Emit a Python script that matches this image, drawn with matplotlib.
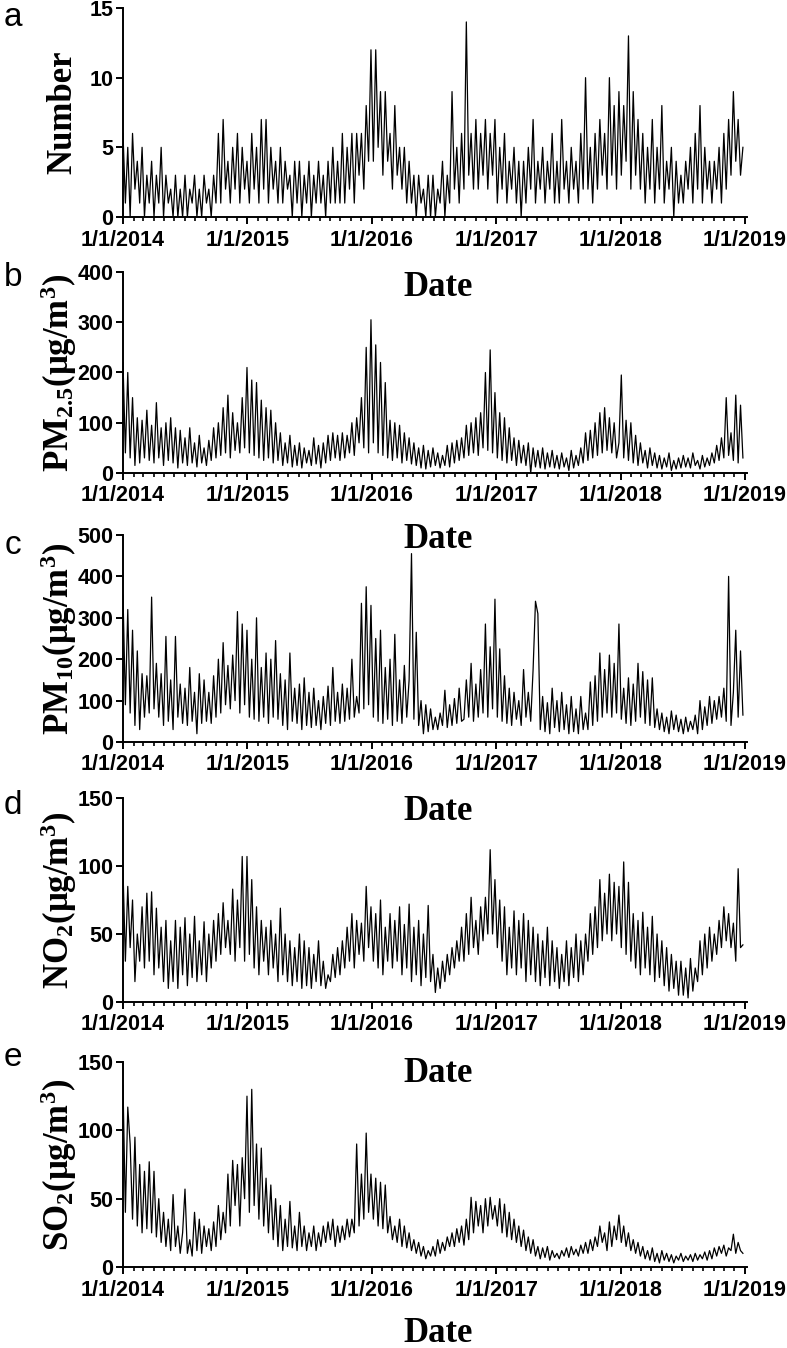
import numpy as np
import matplotlib
matplotlib.use('Agg')
import matplotlib.pyplot as plt
import matplotlib.dates as mdates
from matplotlib.ticker import FuncFormatter

plt.rcParams['font.family'] = ['Liberation Sans', 'DejaVu Sans']
plt.rcParams['mathtext.fontset'] = 'custom'
plt.rcParams['mathtext.rm'] = 'Liberation Serif:bold'
plt.rcParams['mathtext.it'] = 'Liberation Serif:bold:italic'
plt.rcParams['mathtext.bf'] = 'Liberation Serif:bold'

## weekly readings (local highs / lows) from 1/1/2014, one row = one quarter
number = [6,1,5,0,6,2,4,1,5,0,3,1,4, 0,3,1,5,0,3,1,2,0,3,0,2,0,
          3,0,2,1,3,0,2,0,3,1,2,0,3, 1,6,1,7,2,4,1,5,2,6,1,5,2,
          4,1,6,2,5,1,7,2,7,1,5,2,4, 1,5,1,4,2,3,0,4,1,4,0,3,1,
          4,0,3,1,4,1,3,0,4,1,5,1,4, 1,6,1,5,2,6,1,6,3,6,2,8,4,
          12,4,12,5,9,3,9,4,6,2,8,3,5, 2,5,1,4,1,3,0,3,1,2,0,3,0,
          3,0,2,1,4,0,3,1,9,2,5,1,6, 2,14,3,6,2,7,2,6,3,7,2,6,3,
          7,1,5,2,6,1,4,2,5,1,4,0,4, 1,5,2,7,1,4,2,5,1,4,2,6,1,
          4,1,7,2,4,1,5,2,4,1,6,2,10, 2,5,1,6,2,7,3,6,2,10,3,8,2,
          9,3,8,4,13,2,9,3,7,2,6,1,5, 2,7,1,5,2,8,1,4,2,5,0,4,1,
          3,1,4,2,5,1,6,2,8,1,5,2,4, 1,4,2,5,1,6,2,7,3,9,4,7,3,
          5]

pm25 = [220,40,200,30,150,15,110,20,105,30,125,25,95, 20,140,30,90,15,100,25,110,20,90,10,85,20,
        70,15,90,20,60,12,75,20,50,15,65,25,90, 30,100,35,130,40,155,30,120,45,100,40,150,50,
        210,40,185,35,180,30,145,25,130,30,125,20,100, 25,80,15,60,20,75,12,55,15,60,10,50,20,
        45,15,70,18,55,10,60,20,75,25,80,30,75, 25,80,30,75,40,100,35,110,60,150,50,250,40,
        305,60,255,40,220,35,180,30,105,25,100,30,95, 20,80,25,70,18,60,15,50,10,55,8,45,12,
        50,15,40,10,35,15,55,12,60,20,65,25,70, 30,95,35,100,40,110,35,120,50,200,45,245,40,
        160,30,120,25,110,20,90,25,70,15,65,20,55, 15,60,0,50,12,45,10,50,8,40,12,45,10,
        35,8,40,12,30,5,45,10,35,15,50,20,80, 25,85,30,100,35,120,40,130,45,110,40,100,30,
        60,195,30,105,25,100,20,75,15,60,20,45,10, 50,15,40,10,35,8,30,12,40,5,25,8,30,
        10,35,12,30,10,40,15,25,8,35,12,30,15, 40,20,55,25,70,30,150,35,80,25,155,20,135,
        30]

pm10 = [355,90,320,70,270,40,220,30,165,60,160,70,350, 80,190,60,165,40,255,50,150,30,255,60,140,45,
        130,40,180,50,120,20,165,45,150,50,120,45,160, 60,200,70,240,90,185,80,210,100,315,70,285,90,
        270,60,200,55,300,50,180,60,215,45,200,60,245, 55,165,40,150,30,215,50,130,45,140,30,155,40,
        120,35,130,40,100,30,110,45,135,40,180,50,120, 45,140,50,130,55,200,60,110,70,335,80,375,90,
        330,60,250,50,270,45,180,55,200,40,260,50,150, 45,185,60,150,455,55,265,40,100,20,90,25,80,
        30,60,30,70,40,125,35,90,40,105,45,130,50, 55,150,60,190,50,140,60,175,70,285,60,230,80,
        345,60,225,50,160,45,130,40,120,55,100,40,175, 60,120,50,175,340,310,30,110,25,95,20,130,35,
        100,25,120,30,90,20,110,25,80,20,110,30,70, 30,145,40,160,50,215,60,175,70,210,60,190,70,
        285,55,130,45,155,40,140,50,190,60,170,45,150, 40,155,35,80,30,70,25,60,20,75,30,65,25,
        55,20,60,25,50,30,65,20,100,30,85,40,110, 45,100,55,110,60,130,50,400,40,120,270,60,220,
        65]

no2 = [97,30,85,40,75,15,50,30,70,25,80,30,81, 20,69,25,55,15,60,10,45,15,60,10,55,20,
       62,12,50,18,63,15,45,20,59,15,50,25,60, 30,65,35,73,40,60,35,83,30,75,40,107,30,
       107,35,90,25,70,20,60,30,55,20,60,25,50, 15,69,20,50,15,45,12,40,15,50,10,45,12,
       40,10,35,15,45,12,30,10,20,15,35,18,40, 20,45,25,55,30,65,25,60,35,58,30,85,40,
       70,30,65,25,75,20,55,30,65,25,60,30,70, 20,57,25,72,15,55,20,60,12,50,18,71,15,
       35,7,25,10,30,15,35,20,40,25,45,30,55, 30,65,35,77,40,60,35,70,45,77,50,112,50,
       90,40,75,30,70,20,55,25,67,20,60,25,65, 15,60,20,55,15,50,12,45,18,55,12,45,15,
       40,10,35,15,45,12,40,18,50,15,45,20,50, 30,65,35,70,40,90,45,80,50,94,45,88,50,
       85,40,103,35,88,30,65,25,60,20,66,25,55, 20,63,15,50,18,45,12,40,8,35,10,30,5,
       30,5,25,3,32,8,25,15,45,20,50,25,55, 30,50,35,60,40,70,45,65,40,58,30,98,40,
       42]

so2 = [133,40,117,90,35,95,30,75,25,70,28,77,25, 70,22,50,18,40,15,35,12,53,15,30,10,25,
       57,10,20,8,40,12,35,10,30,15,28,12,33, 15,45,20,40,25,68,30,78,45,75,30,80,50,
       125,40,130,45,90,35,87,30,65,25,60,20,50, 15,45,12,35,15,48,14,30,12,40,15,30,12,
       25,15,30,12,25,15,30,18,33,20,35,15,30, 18,30,20,35,22,35,25,90,30,68,35,98,40,
       68,35,65,30,62,28,60,25,37,20,30,18,35, 15,30,14,25,12,20,10,18,8,15,6,12,8,
       15,8,20,10,18,12,22,15,25,15,28,18,30, 16,35,20,51,25,48,30,45,25,50,30,51,35,
       45,30,50,25,46,22,40,20,35,18,30,15,27, 12,22,10,20,8,15,6,14,7,15,5,12,7,
       10,6,12,8,14,7,15,9,13,8,16,10,18, 10,20,12,22,15,30,18,25,12,33,15,30,20,
       38,18,30,15,25,12,20,10,18,8,15,6,12, 5,14,4,10,3,12,5,10,4,9,3,8,5,
       10,4,8,5,9,4,10,5,9,6,11,5,12, 6,14,8,15,10,16,8,14,12,24,10,18,12,
       10]

series = [number, pm25, pm10, no2, so2]
ylabels = ['Number', r'PM$_{2.5}$(μg/m$^{3}$)', r'PM$_{10}$(μg/m$^{3}$)',
           r'NO$_{2}$(μg/m$^{3}$)', r'SO$_{2}$(μg/m$^{3}$)']
ymaxes = [15, 400, 500, 150, 150]
ysteps = [5, 100, 100, 50, 50]
letters = ['a', 'b', 'c', 'd', 'e']

W, H = 787, 1348
# (top px, bottom px) of each panel
panel_px = [(8, 217), (272, 473), (535, 742), (798, 1002), (1062, 1267)]
date_y = [288, 540, 812, 1073, 1333]
letter_y = [17, 277, 545, 805, 1058]

fig = plt.figure(figsize=(W / 100, H / 100), dpi=100)
start = np.datetime64('2014-01-01')

for i in range(5):
    top, bot = panel_px[i]
    ax = fig.add_axes([123 / W, 1 - bot / H, 624 / W, (bot - top) / H])
    vals = series[i]
    x = start + np.arange(len(vals)) * np.timedelta64(7, 'D')
    ax.plot(x, vals, color='black', lw=0.9)
    ax.set_xlim(np.datetime64('2014-01-01'), np.datetime64('2019-01-07'))
    ax.set_ylim(0, ymaxes[i])
    ax.set_yticks(np.arange(0, ymaxes[i] + 1, ysteps[i]))
    ax.xaxis.set_major_locator(mdates.YearLocator())
    ax.xaxis.set_minor_locator(mdates.MonthLocator())
    ax.xaxis.set_major_formatter(FuncFormatter(lambda v, p: '1/1/%d' % mdates.num2date(v).year))
    for s in ['top', 'right']:
        ax.spines[s].set_visible(False)
    for s in ['left', 'bottom']:
        ax.spines[s].set_linewidth(1.4)
    ax.tick_params(which='major', length=5, width=1.4, labelsize=15.5)
    ax.tick_params(axis='x', which='major', pad=4)
    ax.tick_params(axis='y', which='major', pad=2)
    ax.tick_params(which='minor', length=3, width=1.2)
    for t in ax.get_xticklabels() + ax.get_yticklabels():
        t.set_fontweight('bold')
    ax.set_ylabel(ylabels[i], family='Liberation Serif', fontweight='bold', fontsize=25)
    ax.yaxis.set_label_coords(-0.07, 0.5)
    fig.text(438 / W, 1 - date_y[i] / H, 'Date', family='Liberation Serif', fontweight='bold',
             fontsize=25, ha='center', va='center')
    fig.text(13 / W, 1 - letter_y[i] / H, letters[i], fontsize=24, ha='center', va='center')

fig.savefig('out.png', dpi=100)
